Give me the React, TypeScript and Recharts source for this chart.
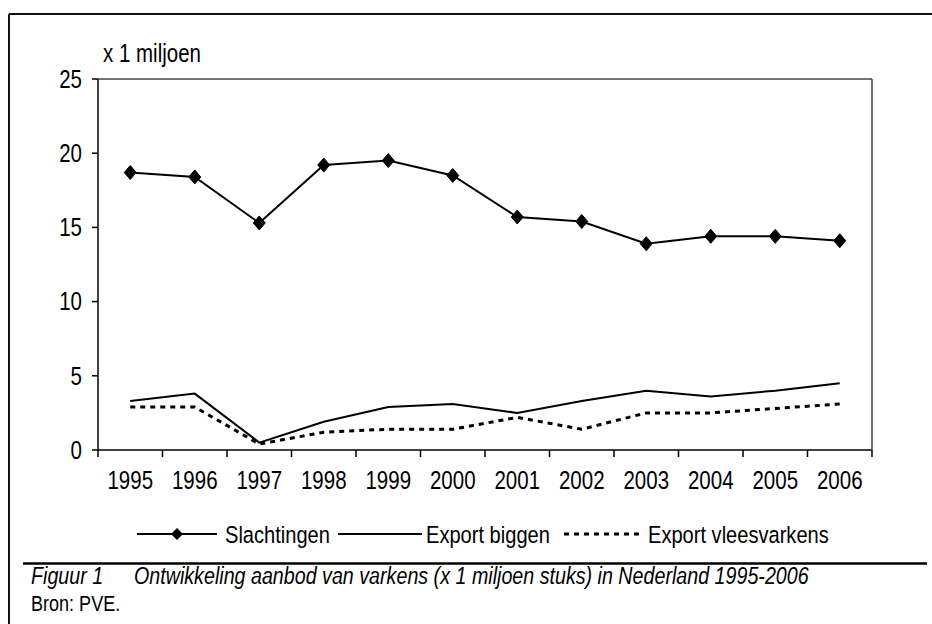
import React from 'react';
import { LineChart, Line, XAxis, YAxis } from 'recharts';

const years = ['1995', '1996', '1997', '1998', '1999', '2000', '2001', '2002', '2003', '2004', '2005', '2006'];
const slachtingen = [18.7, 18.4, 15.3, 19.2, 19.5, 18.5, 15.7, 15.4, 13.9, 14.4, 14.4, 14.1];
const exportBiggen = [3.3, 3.8, 0.5, 1.9, 2.9, 3.1, 2.5, 3.3, 4.0, 3.6, 4.0, 4.5];
const exportVleesvarkens = [2.9, 2.9, 0.4, 1.2, 1.4, 1.4, 2.2, 1.4, 2.5, 2.5, 2.8, 3.1];
const yTicks = [0, 5, 10, 15, 20, 25];

const seriesNames = ['Slachtingen', 'Export biggen', 'Export vleesvarkens'];
const yUnitLabel = 'x 1 miljoen';
const captionLabel = 'Figuur 1';
const captionText = 'Ontwikkeling aanbod van varkens (x 1 miljoen stuks) in Nederland 1995-2006';
const sourceText = 'Bron: PVE.';

const data = years.map((year, i) => ({
  year,
  slachtingen: slachtingen[i],
  biggen: exportBiggen[i],
  vlees: exportVleesvarkens[i],
}));

const W = 932;
const H = 624;
const M_TOP = 79;
const M_LEFT = 38;
const Y_AXIS_W = 60;
const M_RIGHT = 60;
const X_AXIS_H = 50;
const M_BOTTOM = 124;
const PLOT_LEFT = M_LEFT + Y_AXIS_W;
const PLOT_RIGHT = W - M_RIGHT;
const PLOT_BOTTOM = H - M_BOTTOM - X_AXIS_H;
const PLOT_W = PLOT_RIGHT - PLOT_LEFT;
const HALF_BAND = PLOT_W / years.length / 2;

const FONT = '"Liberation Sans", Arial, sans-serif';
const SQUEEZE = 0.82;

const NText = ({ x, y, size, anchor = 'start', italic = false, dy, children }: any) => (
  <text
    transform={`translate(${x},${y}) scale(${SQUEEZE},1)`}
    x={0}
    y={0}
    dy={dy}
    textAnchor={anchor}
    fontFamily={FONT}
    fontSize={size}
    fontStyle={italic ? 'italic' : 'normal'}
    fill="#000"
  >
    {children}
  </text>
);

const Diamond = (props: any) => {
  const { cx, cy } = props;
  if (cx == null || cy == null) return null;
  return (
    <polygon
      points={`${cx},${cy - 7} ${cx + 6},${cy} ${cx},${cy + 7} ${cx - 6},${cy}`}
      fill="#000"
      stroke="#000"
      strokeWidth={1}
    />
  );
};

const XTick = (props: any) => {
  const { x, payload, index } = props;
  const isLast = index === years.length - 1;
  return (
    <g>
      <line x1={x - HALF_BAND} x2={x - HALF_BAND} y1={PLOT_BOTTOM} y2={PLOT_BOTTOM + 7} stroke="#000" strokeWidth={1.5} />
      {isLast && (
        <line x1={x + HALF_BAND} x2={x + HALF_BAND} y1={PLOT_BOTTOM} y2={PLOT_BOTTOM + 7} stroke="#000" strokeWidth={1.5} />
      )}
      <NText x={x} y={PLOT_BOTTOM + 21} dy="0.71em" size={25} anchor="middle">
        {payload.value}
      </NText>
    </g>
  );
};

const YTick = (props: any) => {
  const { x, y, payload } = props;
  return (
    <NText x={x} y={y} dy="0.355em" size={25} anchor="end">
      {payload.value}
    </NText>
  );
};

export default function App() {
  const legendY = 534;
  return (
    <div style={{ position: 'absolute', left: 0, top: 0, width: W, height: H, background: '#fff' }}>
      <LineChart
        width={W}
        height={H}
        data={data}
        margin={{ top: M_TOP, left: M_LEFT, right: M_RIGHT, bottom: M_BOTTOM }}
      >
        <XAxis
          dataKey="year"
          type="category"
          height={X_AXIS_H}
          padding={{ left: HALF_BAND, right: HALF_BAND }}
          axisLine={{ stroke: '#000', strokeWidth: 1.5 }}
          tickLine={false}
          tick={<XTick />}
          interval={0}
        />
        <YAxis
          type="number"
          domain={[0, 25]}
          ticks={yTicks}
          width={Y_AXIS_W}
          axisLine={{ stroke: '#000', strokeWidth: 1.5 }}
          tickLine={{ stroke: '#000', strokeWidth: 1.5 }}
          tickSize={6}
          tickMargin={10}
          tick={<YTick />}
        />
        <Line
          dataKey="slachtingen"
          name={seriesNames[0]}
          stroke="#000"
          strokeWidth={2}
          dot={<Diamond />}
          activeDot={false}
          isAnimationActive={false}
        />
        <Line
          dataKey="biggen"
          name={seriesNames[1]}
          stroke="#000"
          strokeWidth={2}
          dot={false}
          activeDot={false}
          isAnimationActive={false}
        />
        <Line
          dataKey="vlees"
          name={seriesNames[2]}
          stroke="#000"
          strokeWidth={3}
          strokeDasharray="5 5"
          dot={false}
          activeDot={false}
          isAnimationActive={false}
        />
      </LineChart>

      <svg width={W} height={H} style={{ position: 'absolute', left: 0, top: 0, pointerEvents: 'none' }}>
        <line x1={9} x2={W} y1={14} y2={14} stroke="#111" strokeWidth={2} />
        <line x1={9} x2={9} y1={14} y2={H} stroke="#111" strokeWidth={2} />
        <line x1={PLOT_LEFT} x2={PLOT_RIGHT} y1={M_TOP} y2={M_TOP} stroke="#444" strokeWidth={1.5} />
        <line x1={PLOT_RIGHT} x2={PLOT_RIGHT} y1={M_TOP} y2={PLOT_BOTTOM} stroke="#444" strokeWidth={1.5} />
        <NText x={103} y={62} size={25}>{yUnitLabel}</NText>

        {/* legend */}
        <line x1={137} x2={217} y1={legendY} y2={legendY} stroke="#000" strokeWidth={2} />
        <polygon points={`177,${legendY - 6} 183,${legendY} 177,${legendY + 6} 171,${legendY}`} fill="#000" />
        <NText x={225} y={543} size={24.5}>{seriesNames[0]}</NText>
        <line x1={338} x2={422} y1={legendY} y2={legendY} stroke="#000" strokeWidth={2} />
        <NText x={426} y={543} size={24.5}>{seriesNames[1]}</NText>
        <line x1={564} x2={640} y1={legendY} y2={legendY} stroke="#000" strokeWidth={3} strokeDasharray="5 5" />
        <NText x={648} y={543} size={24.5}>{seriesNames[2]}</NText>

        <line x1={23} x2={927} y1={563.5} y2={563.5} stroke="#000" strokeWidth={2.5} />
        <NText x={31} y={584} size={24} italic>{captionLabel}</NText>
        <NText x={134} y={584} size={24} italic>{captionText}</NText>
        <NText x={31} y={611} size={22}>{sourceText}</NText>
      </svg>
    </div>
  );
}
